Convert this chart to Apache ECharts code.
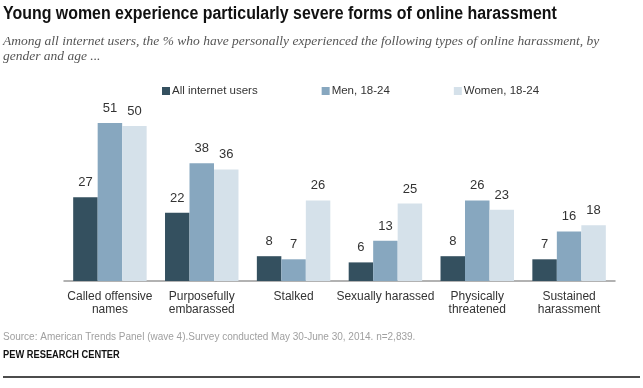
<!DOCTYPE html>
<html><head><meta charset="utf-8">
<script src="https://cdn.jsdelivr.net/npm/echarts@6/dist/echarts.min.js"></script>
<style>html,body{margin:0;padding:0;background:#fff}#c{width:643px;height:388px}</style>
</head><body><div id="c"></div>
<script>
const categories = ["Called offensive\nnames", "Purposefully\nembarassed", "Stalked", "Sexually harassed", "Physically\nthreatened", "Sustained\nharassment"];
const seriesNames = ["All internet users", "Men, 18-24", "Women, 18-24"];
const allUsers = [27, 22, 8, 6, 8, 7];
const men1824 = [51, 38, 7, 13, 26, 16];
const women1824 = [50, 36, 26, 25, 23, 18];
const colors = ["#34505f", "#87a7bf", "#d5e1ea"];

const chart = echarts.init(document.getElementById('c'), null, {renderer: 'canvas'});
const lbl = {show: true, position: 'top', distance: 8, color: '#333', fontSize: 13, fontFamily: 'Liberation Sans, Arial, sans-serif'};
const mk = (name, data, i) => ({
  name, type: 'bar', data, barGap: '0%', barCategoryGap: '20%',
  itemStyle: {color: colors[i]}, label: lbl, emphasis: {disabled: true}
});
chart.setOption({
  animation: false,
  color: colors,
  grid: {left: 64, right: 28, top: 95, bottom: 107, containLabel: false},
  legend: {
    top: 80, left: 157, itemWidth: 8, itemHeight: 8, itemGap: 64, icon: 'rect',
    textStyle: {fontSize: 11.5, color: '#333', fontFamily: 'Liberation Sans, Arial, sans-serif', padding: [0,0,0,-3]},
    data: seriesNames
  },
  xAxis: {
    type: 'category', data: categories,
    axisLine: {lineStyle: {color: '#999', width: 1.5}},
    axisTick: {show: false},
    axisLabel: {color: '#333', fontSize: 12, lineHeight: 13, margin: 9, interval: 0, fontFamily: 'Liberation Sans, sans-serif'}
  },
  yAxis: {type: 'value', min: 0, max: 60, show: false, splitLine: {show: false}},
  series: [mk(seriesNames[0], allUsers, 0), mk(seriesNames[1], men1824, 1), mk(seriesNames[2], women1824, 2)],
  graphic: [
    {type: 'text', x: 3, y: 5, scaleX: 0.885, style: {text: 'Young women experience particularly severe forms of online harassment', font: 'bold 18px "Liberation Sans", sans-serif', fill: '#111'}},
    {type: 'text', x: 3, y: 34, style: {text: 'Among all internet users, the % who have personally experienced the following types of online harassment, by\ngender and age ...', font: 'italic 13.5px "Liberation Serif", serif', lineHeight: 15, fill: '#555'}},
    {type: 'text', x: 3, y: 332, style: {text: 'Source: American Trends Panel (wave 4).Survey conducted May 30-June 30, 2014. n=2,839.', font: '10px "Liberation Sans", sans-serif', fill: '#a0a0a0'}},
    {type: 'text', x: 3, y: 350, scaleX: 0.93, style: {text: 'PEW RESEARCH CENTER', font: 'bold 10px "Liberation Sans", sans-serif', fill: '#111'}},
    {type: 'line', shape: {x1: 3, y1: 377, x2: 640, y2: 377}, style: {stroke: '#111', lineWidth: 1.5}}
  ]
});
</script></body></html>
